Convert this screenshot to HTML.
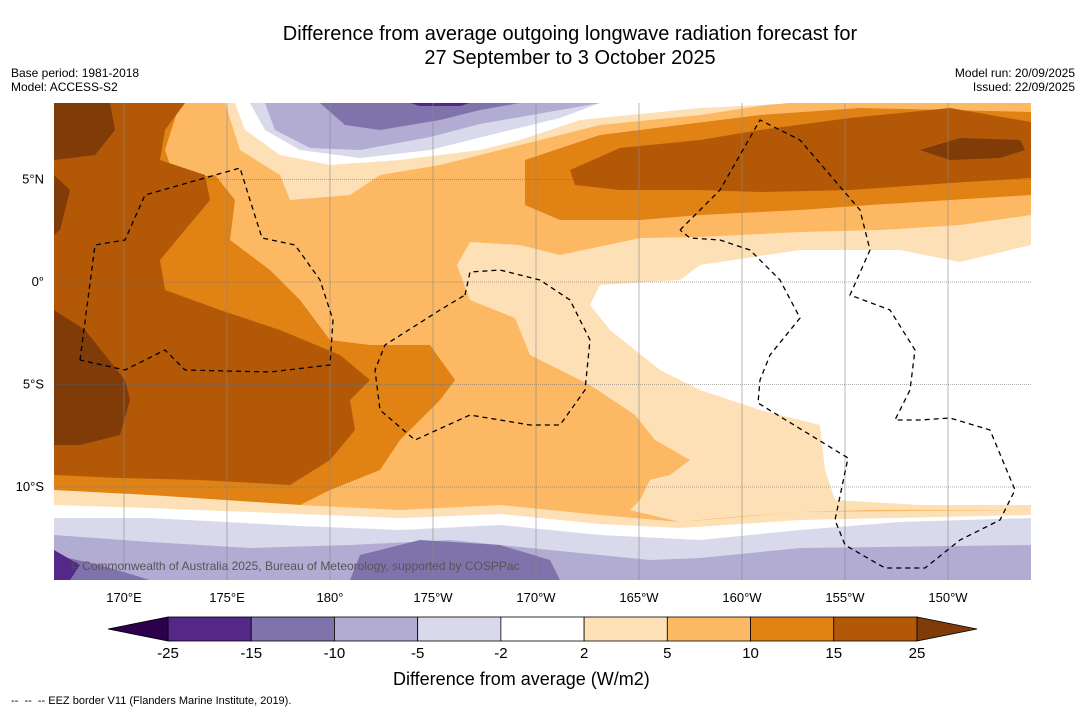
<!DOCTYPE html>
<html><head><meta charset="utf-8"><style>
body{margin:0;background:#fff;font-family:"Liberation Sans","DejaVu Sans",sans-serif;}
#wrap{position:relative;width:1085px;height:713px;overflow:hidden;background:#fff;}
.t{position:absolute;white-space:nowrap;color:#000;}
</style></head><body>
<div id="wrap">
<div class="t" style="left:0;width:1140px;top:22px;text-align:center;font-size:20px;line-height:24px;">Difference from average outgoing longwave radiation forecast for<br>27 September to 3 October 2025</div>
<div class="t" style="left:11px;top:66px;font-size:12px;line-height:14px;">Base period: 1981-2018<br>Model: ACCESS-S2</div>
<div class="t" style="right:10px;top:66px;font-size:12px;line-height:14px;text-align:right;">Model run: 20/09/2025<br>Issued: 22/09/2025</div>
<svg id="svg" width="1085" height="713" style="position:absolute;left:0;top:0">
<defs><clipPath id="mc"><rect x="54" y="103" width="977" height="477"/></clipPath></defs>
<g id="map" clip-path="url(#mc)"></g>
<g id="axes"></g>
<g id="cbar"></g>
</svg>
<div class="t" style="left:70px;top:559px;font-size:12px;color:#555;">© Commonwealth of Australia 2025, Bureau of Meteorology, supported by COSPPac</div>
<div class="t" style="left:393px;top:669px;font-size:18px;">Difference from average (W/m2)</div>
<div class="t" style="left:11px;top:695px;font-size:11px;">-- &nbsp;-- &nbsp;-- EEZ border V11 (Flanders Marine Institute, 2019).</div>
</div>
<script>
const levels=["-25","-15","-10","-5","-2","2","5","10","15","25"];
const colors=["#542788","#8073ac","#b2abd2","#d8daeb","#ffffff","#fee0b6","#fdb863","#e08214","#b35806"];
const lowColor="#2d004b", highColor="#7f3b08";
const lonLabels=["170°E","175°E","180°","175°W","170°W","165°W","160°W","155°W","150°W"];
const lonVals=[170,175,180,185,190,195,200,205,210];
const latLabels=["5°N","0°","5°S","10°S"];
const latVals=[5,0,-5,-10];
const NS="http://www.w3.org/2000/svg";
const xLon=l=>124+(l-170)*20.6, yLat=la=>282-la*20.5;
function mk(t,a,p){const e=document.createElementNS(NS,t);for(const k in a)e.setAttribute(k,a[k]);p.appendChild(e);return e;}
const map=document.getElementById('map');
const shapes=[
["#fdb863","54,103 1031,103 1031,580 54,580"],
["#fee0b6","1031,215 960,225 880,230 800,232 700,237 640,238 560,255 520,245 470,242 457,265 470,300 515,318 530,355 590,385 635,415 655,440 690,460 670,475 650,480 640,500 630,510 680,522 720,518 800,512 870,510 1031,510"],
["#ffffff","1031,245 960,262 900,250 800,250 700,265 680,280 600,285 590,305 610,330 660,370 700,390 760,410 820,425 825,470 835,500 920,505 1031,505"],
["#fee0b6","225,103 240,150 280,175 290,200 350,195 380,175 440,165 500,150 540,140 600,125 700,115 780,103"],
["#ffffff","235,103 245,130 280,155 330,165 400,160 480,150 520,140 580,120 700,108 800,103"],
["#d8daeb","250,103 265,130 300,150 360,158 430,150 490,135 560,118 600,103"],
["#b2abd2","265,103 275,130 310,148 360,150 430,137 480,124 560,110 600,103"],
["#8073ac","320,103 345,125 380,130 440,120 480,110 520,103"],
["#542788","410,103 420,106 460,106 470,103"],
["#fdb863","780,103 1031,103 1031,110 860,110"],
["#e08214","525,160 600,135 680,125 760,115 860,108 1031,112 1031,195 950,200 870,205 800,210 700,215 640,220 560,220 525,205"],
["#b35806","570,170 620,148 700,140 760,130 850,118 950,108 1031,122 1031,178 950,183 850,190 760,192 700,190 620,190 575,185"],
["#7f3b08","920,150 960,138 1020,140 1025,150 1000,158 950,160"],
["#e08214","54,103 180,103 165,150 175,180 215,175 235,200 230,240 270,270 300,300 330,340 370,345 430,345 455,380 440,400 400,440 380,470 330,490 300,505 200,500 100,495 54,490"],
["#b35806","54,103 185,103 165,130 160,160 205,175 210,200 185,230 160,260 165,290 220,310 280,330 340,355 370,380 350,400 355,430 330,460 290,485 200,480 120,478 54,475"],
["#7f3b08","54,103 110,103 115,130 95,155 54,160"],
["#7f3b08","54,175 70,190 60,230 54,235"],
["#7f3b08","54,310 85,330 125,380 130,400 120,435 80,445 54,445"],
["#fee0b6","54,490 150,495 300,505 400,510 500,505 600,515 680,522 800,512 1031,510 1031,580 54,580"],
["#ffffff","54,505 150,508 300,514 400,518 500,514 600,524 680,528 800,520 1031,515 1031,580 54,580"],
["#d8daeb","54,518 150,518 300,526 400,530 500,525 600,535 700,540 800,530 900,522 1031,518 1031,580 54,580"],
["#b2abd2","54,535 150,542 250,548 350,545 450,540 550,550 650,560 700,558 800,548 1031,545 1031,580 54,580"],
["#8073ac","54,555 100,565 150,580 54,580"],
["#8073ac","360,555 420,540 500,545 550,560 560,580 350,580"],
["#542788","54,550 80,565 70,580 54,580"]
];
shapes.forEach((s,i)=>{const p=mk('polygon',{points:s[1],fill:s[0]},map);

});
const ax=document.getElementById('axes');
lonVals.forEach((v,i)=>{const x=xLon(v);
mk('line',{x1:x,y1:103,x2:x,y2:580,stroke:'#888','stroke-width':0.6},ax);
const t=mk('text',{x:x,y:602,'font-size':13,'text-anchor':'middle','font-family':'Liberation Sans, sans-serif'},ax);t.textContent=lonLabels[i];

});
latVals.forEach((v,i)=>{const y=yLat(v);
mk('line',{x1:54,y1:y,x2:1031,y2:y,stroke:'#666','stroke-width':0.6,'stroke-dasharray':'1,1'},ax);
const t=mk('text',{x:44,y:y+4,'font-size':13,'text-anchor':'end','font-family':'Liberation Sans, sans-serif'},ax);t.textContent=latLabels[i];

});
const eez=["80,360 95,245 125,240 145,195 240,168 250,200 262,238 295,245 320,280 333,320 330,365 270,372 185,370 165,350 125,370 80,360",
"465,295 470,272 500,270 540,280 570,300 590,340 585,390 560,425 530,425 470,415 415,440 380,410 375,370 385,345 440,310 465,295",
"680,230 720,190 760,120 800,140 830,175 860,210 870,250 850,295 890,310 915,350 910,390 895,420 920,420 950,418 990,430 1015,490 1000,520 960,540 925,568 885,568 845,545 835,520 848,458 758,403 760,380 770,355 800,318 780,280 750,250 720,240 690,238 680,230"];
eez.forEach(p=>{const e=mk('polyline',{points:p,fill:'none',stroke:'#000','stroke-width':1.3,'stroke-dasharray':'5,4'},ax);

});
const cb=document.getElementById('cbar');
const x0=168,w=(917-168)/colors.length,y0=617,h=24;
colors.forEach((c,i)=>{const r=mk('rect',{x:x0+i*w,y:y0,width:w,height:h,fill:c,stroke:'#000','stroke-width':0.8},cb);

});
let tl=mk('polygon',{points:`108,${y0+h/2} ${x0},${y0} ${x0},${y0+h}`,fill:lowColor,stroke:'#000','stroke-width':0.8},cb);


let tr=mk('polygon',{points:`977,${y0+h/2} 917,${y0} 917,${y0+h}`,fill:highColor,stroke:'#000','stroke-width':0.8},cb);


levels.forEach((l,i)=>{const t=mk('text',{x:x0+i*w,y:658,'font-size':15,'text-anchor':'middle','font-family':'Liberation Sans, sans-serif'},cb);t.textContent=l;

});
</script>
</body></html>
